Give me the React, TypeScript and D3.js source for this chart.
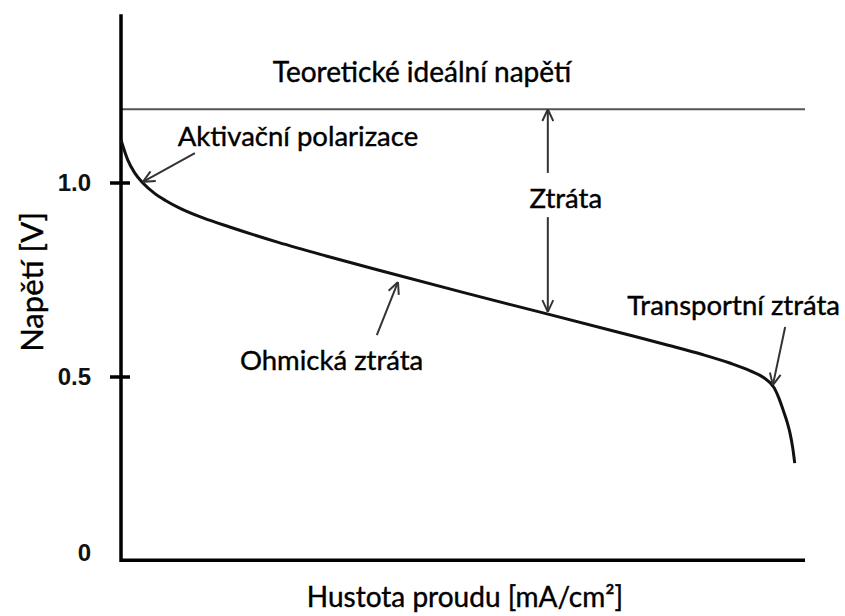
import React, { useEffect, useRef } from 'react';
import * as d3 from 'd3';

// polarization curve (x in relative units 0-100)
const currentDensity = [0, 1, 2, 3.2, 5, 6.5, 8.5, 12, 16, 23, 30, 38, 50, 62, 73, 80, 85, 89, 92, 94, 95.5, 96.2, 96.8, 97.4, 97.8, 98.2, 98.5];
const voltage = [1.111, 1.059, 1.026, 1.0, 0.972, 0.955, 0.936, 0.91, 0.886, 0.847, 0.812, 0.774, 0.718, 0.664, 0.614, 0.582, 0.558, 0.536, 0.516, 0.498, 0.472, 0.445, 0.415, 0.383, 0.356, 0.318, 0.278];

const idealVoltage = 1.19;
const yTickValues = [0.5, 1.0];
const yTickLabels = ['0.5', '1.0'];
const originLabel = '0';

const xMax = 100;
const yTop = 1.435;
const yBottom = 0.028;

// annotation arrows: [x, v] start and head
const arrowLabels = ['Aktivační polarizace', 'Ohmická ztráta', 'Transportní ztráta'];
const arrowFrom = [[10.8, 1.077], [37.4, 0.608], [97.1, 0.629]];
const arrowTo = [[3.2, 1.003], [40.5, 0.745], [95.3, 0.479]];
const labelAt = [[8.3, 1.096], [17.4, 0.517], [74.0, 0.661]];

const lossX = 62.4;
const lossBottom = 0.668;
const lossMid = 0.97;
const lossLabel = 'Ztráta';
const idealLabel = 'Teoretické ideální napětí';
const xTitle = 'Hustota proudu [mA/cm²]';
const yTitle = 'Napětí [V]';

const W = 845;
const H = 616;
const FONT = 'Lato, "Open Sans", sans-serif';

const App = () => {
  const ref = useRef<SVGSVGElement | null>(null);

  useEffect(() => {
    const svg = d3.select(ref.current);
    svg.selectAll('*').remove();

    const x = d3.scaleLinear().domain([0, xMax]).range([121, 805]);
    const y = d3.scaleLinear().domain([0, 1]).range([571, 183]);

    svg
      .append('defs')
      .append('marker')
      .attr('id', 'head')
      .attr('viewBox', '0 0 10 10')
      .attr('refX', 10)
      .attr('refY', 5)
      .attr('markerWidth', 13)
      .attr('markerHeight', 13)
      .attr('markerUnits', 'userSpaceOnUse')
      .attr('orient', 'auto')
      .append('path')
      .attr('d', 'M1,0.8 L10,5 L1,9.2')
      .attr('fill', 'none')
      .attr('stroke', '#333')
      .attr('stroke-width', 1.5);

    // ideal voltage line
    svg
      .append('line')
      .attr('x1', x(0))
      .attr('x2', x(xMax))
      .attr('y1', y(idealVoltage))
      .attr('y2', y(idealVoltage))
      .attr('stroke', '#555')
      .attr('stroke-width', 2);

    // axes
    svg
      .append('path')
      .attr('d', `M${x(0)},${y(yTop)} L${x(0)},${y(yBottom)} L${x(xMax)},${y(yBottom)}`)
      .attr('fill', 'none')
      .attr('stroke', '#000')
      .attr('stroke-width', 3.5);

    svg
      .selectAll('.tick')
      .data(yTickValues)
      .enter()
      .append('line')
      .attr('class', 'tick')
      .attr('x1', x(0) - 11)
      .attr('x2', x(0) + 9)
      .attr('y1', (d) => y(d))
      .attr('y2', (d) => y(d))
      .attr('stroke', '#000')
      .attr('stroke-width', 3.5);

    svg
      .selectAll('.tick-label')
      .data(yTickValues)
      .enter()
      .append('text')
      .attr('class', 'tick-label')
      .text((d, i) => yTickLabels[i])
      .attr('x', x(0) - 30)
      .attr('y', (d) => y(d) + 8)
      .attr('text-anchor', 'end')
      .attr('font-family', 'Liberation Sans, Arial, sans-serif')
      .attr('font-weight', 'bold')
      .attr('font-size', 24)
      .attr('fill', '#111');

    svg
      .append('text')
      .text(originLabel)
      .attr('x', x(0) - 30)
      .attr('y', y(yBottom) + 1)
      .attr('text-anchor', 'end')
      .attr('font-family', 'Liberation Sans, Arial, sans-serif')
      .attr('font-weight', 'bold')
      .attr('font-size', 24)
      .attr('fill', '#111');

    // curve
    const line = d3
      .line<number>()
      .x((d, i) => x(currentDensity[i]))
      .y((d) => y(d))
      .curve(d3.curveMonotoneX);

    svg
      .append('path')
      .datum(voltage)
      .attr('d', line)
      .attr('fill', 'none')
      .attr('stroke', '#111')
      .attr('stroke-width', 3);

    // annotation arrows
    svg
      .selectAll('.arrow')
      .data(arrowLabels)
      .enter()
      .append('line')
      .attr('class', 'arrow')
      .attr('x1', (d, i) => x(arrowFrom[i][0]))
      .attr('y1', (d, i) => y(arrowFrom[i][1]))
      .attr('x2', (d, i) => x(arrowTo[i][0]))
      .attr('y2', (d, i) => y(arrowTo[i][1]))
      .attr('stroke', '#333')
      .attr('stroke-width', 2)
      .attr('marker-end', 'url(#head)');

    const addText = (txt: string, size: number) =>
      svg
        .append('text')
        .text(txt)
        .attr('font-family', FONT)
        .attr('font-size', size)
        .attr('fill', '#000')
        .attr('stroke', '#000')
        .attr('stroke-width', 0.4);

    arrowLabels.forEach((lbl, i) => {
      addText(lbl, 27.5).attr('x', x(labelAt[i][0])).attr('y', y(labelAt[i][1]));
    });

    // loss double arrow, split around its label
    svg
      .append('line')
      .attr('x1', x(lossX))
      .attr('x2', x(lossX))
      .attr('y1', y(lossMid + 0.056))
      .attr('y2', y(idealVoltage))
      .attr('stroke', '#333')
      .attr('stroke-width', 2)
      .attr('marker-end', 'url(#head)');
    svg
      .append('line')
      .attr('x1', x(lossX))
      .attr('x2', x(lossX))
      .attr('y1', y(lossMid - 0.058))
      .attr('y2', y(lossBottom))
      .attr('stroke', '#333')
      .attr('stroke-width', 2)
      .attr('marker-end', 'url(#head)');

    addText(lossLabel, 27.5)
      .attr('x', x(lossX) + 18)
      .attr('y', y(lossMid) + 13)
      .attr('text-anchor', 'middle');

    addText(idealLabel, 28)
      .attr('x', 422)
      .attr('y', y(idealVoltage) - 27)
      .attr('text-anchor', 'middle');

    // axis titles
    addText(xTitle, 28).attr('x', 465).attr('y', 607).attr('text-anchor', 'middle');

    addText(yTitle, 31)
      .attr('transform', 'translate(43,282) rotate(-90)')
      .attr('text-anchor', 'middle');
  }, []);

  return (
    <svg
      ref={ref}
      width={W}
      height={H}
      style={{ position: 'absolute', left: 0, top: 0, background: '#fff' }}
    />
  );
};

export default App;
